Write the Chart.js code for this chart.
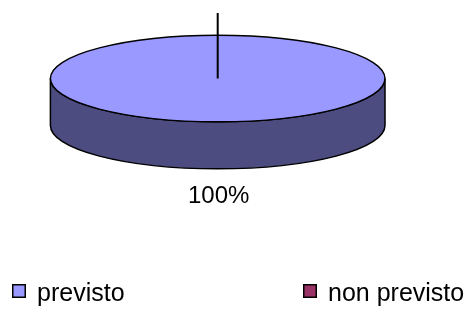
<!DOCTYPE html>
<html><head><meta charset="utf-8">
<script src="https://cdn.jsdelivr.net/npm/chart.js@4/dist/chart.umd.min.js"></script>
<style>html,body{margin:0;padding:0;background:#fff;}canvas{display:block}</style>
</head><body>
<canvas id="c" width="473" height="309"></canvas>
<script>
const categories = ['previsto', 'non previsto'];
const values = [100, 0];
const topColors = ['#9999FF', '#993366'];
const sideColors = ['#4C4C80', '#4D1A33'];

const FONT = '"Liberation Sans", Arial, sans-serif';
const TILT = 0.259;
const DEPTH = 47;
const TOP_CY = 78.5;
const LEGEND_X = [12, 303];

function geom(arc) {
  return {cx: arc.x, cy: TOP_CY, rx: arc.outerRadius, ry: arc.outerRadius * TILT};
}

const pie3d = {
  id: 'pie3d',
  beforeDatasetsDraw(chart) {
    const ctx = chart.ctx;
    const arcs = chart.getDatasetMeta(0).data;
    ctx.save();
    arcs.forEach((arc, i) => {
      const p = arc.getProps(['startAngle', 'endAngle']);
      if (p.endAngle - p.startAngle <= 0) return;
      const g = geom(arc);
      for (const off of [-2 * Math.PI, 0, 2 * Math.PI]) {
        const a0 = Math.max(p.startAngle + off, 0);
        const a1 = Math.min(p.endAngle + off, Math.PI);
        if (a1 <= a0) continue;
        ctx.beginPath();
        ctx.ellipse(g.cx, g.cy, g.rx, g.ry, 0, a0, a1, false);
        ctx.lineTo(g.cx + g.rx * Math.cos(a1), g.cy + DEPTH + g.ry * Math.sin(a1));
        ctx.ellipse(g.cx, g.cy + DEPTH, g.rx, g.ry, 0, a1, a0, true);
        ctx.closePath();
        ctx.fillStyle = sideColors[i];
        ctx.fill();
        ctx.lineWidth = 1.5;
        ctx.strokeStyle = '#000';
        ctx.stroke();
      }
    });
    ctx.restore();
    const a = arcs[0];
    ctx.save();
    ctx.translate(0, TOP_CY);
    ctx.scale(1, TILT);
    ctx.translate(0, -a.y);
  },
  afterDatasetsDraw(chart) {
    const ctx = chart.ctx;
    ctx.restore();
    const arcs = chart.getDatasetMeta(0).data;
    ctx.save();
    ctx.strokeStyle = '#000';
    ctx.lineWidth = 1.5;
    arcs.forEach((arc, i) => {
      const p = arc.getProps(['startAngle', 'endAngle']);
      const g = geom(arc);
      if (p.endAngle - p.startAngle > 0) {
        ctx.beginPath();
        ctx.ellipse(g.cx, g.cy, g.rx, g.ry, 0, p.startAngle, p.endAngle, false);
        if (p.endAngle - p.startAngle < 2 * Math.PI - 1e-6) { ctx.lineTo(g.cx, g.cy); ctx.closePath(); }
        ctx.stroke();
      } else {
        // zero-value slice: leader line from the centre
        ctx.lineWidth = 2;
        ctx.beginPath();
        ctx.moveTo(g.cx, g.cy);
        ctx.lineTo(g.cx + 65.5 * Math.cos(p.startAngle), g.cy + 65.5 * Math.sin(p.startAngle));
        ctx.stroke();
      }
    });
    // percentage label
    const total = values.reduce((s, v) => s + v, 0);
    const g0 = geom(arcs[0]);
    ctx.fillStyle = '#000';
    ctx.font = '24px ' + FONT;
    ctx.textAlign = 'center';
    ctx.textBaseline = 'alphabetic';
    ctx.fillText(Math.round(values[0] / total * 100) + '%', g0.cx + 1, g0.cy + g0.ry + DEPTH + 34);
    // legend
    ctx.textAlign = 'left';
    ctx.font = '25px ' + FONT;
    categories.forEach((c, i) => {
      const x = LEGEND_X[i];
      ctx.fillStyle = topColors[i];
      ctx.fillRect(x, 284, 13, 13);
      ctx.lineWidth = 1.5;
      ctx.strokeStyle = '#000';
      ctx.strokeRect(x + 0.75, 284.75, 12.5, 12.5);
      ctx.fillStyle = '#000';
      ctx.fillText(c, x + 25, 301);
    });
    ctx.restore();
  }
};

new Chart(document.getElementById('c'), {
  type: 'pie',
  data: {
    labels: categories,
    datasets: [{
      data: values,
      backgroundColor: topColors,
      borderWidth: 0,
      clip: false
    }]
  },
  options: {
    responsive: false,
    animation: false,
    events: [],
    radius: 167.3,
    layout: {padding: {right: 37.6}},
    plugins: {legend: {display: false}, tooltip: {enabled: false}}
  },
  plugins: [pie3d]
});
</script>
</body></html>
